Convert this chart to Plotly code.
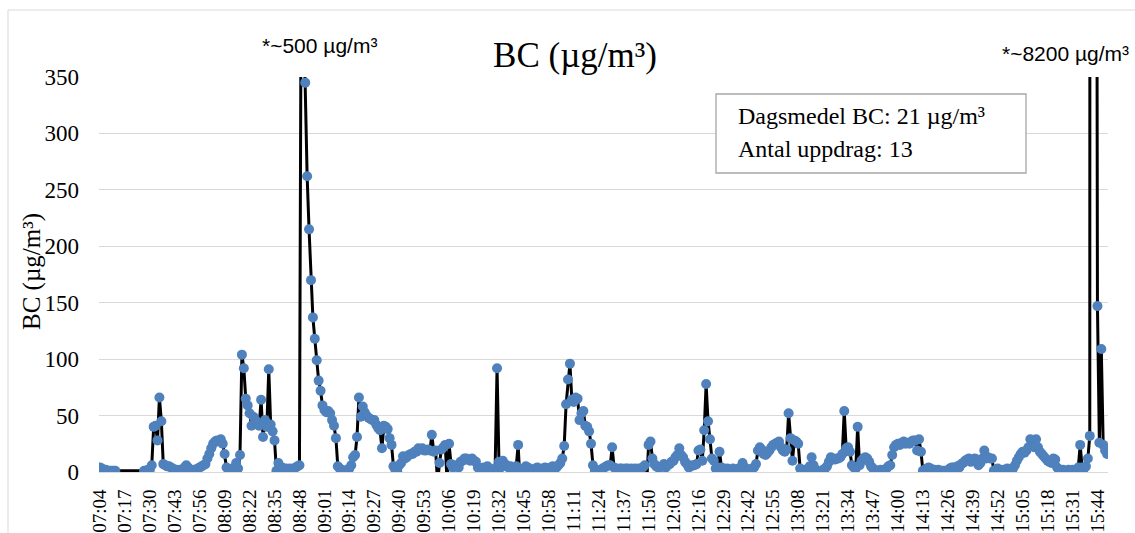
import plotly.graph_objects as go

# Black carbon concentration per minute (µg/m³), starting 07:04; None = no data
bc = (
    [4, 3, 2, 2, 1, 1, 1, 1, 1]
    + [None] * 14
    + [1, 1, 2, 2, 6]
    + [40, 41, 28, 66, 45, 7]
    + [6, 5, 5, 4, 3, 2, 2, 1, 2, 1, 4, 6, 4, 2, 1, 2, 2, 3]
    + [4, 5, 6, 7, 12, 16, 21, 25]
    + [27, 28, 27, 29, 25, 16]
    + [4, 2, 2, 3, 2, 8, 3, 15]
    + [104, 92, 65, 59, 52, 41, 49, 46, 44, 41, 64, 31, 46, 40]
    + [91, 42, 36, 28, 1, 8, 3, 4, 2, 3, 2, 3, 2, 3, 4, 5]
    + [6]
    + [500, 420]
    + [345, 262, 215, 170, 137, 118, 99, 81, 72, 59, 55, 53, 54, 52, 46, 41, 30, 5]
    + [3, 2, 1, 1, 2, 3, 6]
    + [13, 15, 31, 66]
    + [49, 58, 53, 50, 48, 47, 46, 46, 42, 39, 37, 21, 41, 40, 38, 30, 24, 5, 2, 1]
    + [6, 8, 14, 12, 13, 15, 16, 16, 18, 18, 21, 20, 21, 19, 19, 20, 19, 33, 18, 19]
    + [-10, 8, 20, 22, 24, -10, 25, 7]
    + [4, 6, 5, 4, 9, 10, 12, 12, 11, 10, 12, 10, 9, 4, 3, 3, 4, 3, 5, 3, 2, 2, 3]
    + [92]
    + [9, 4, 10, 7, 6, 4, 5, 3, 3, 5]
    + [24, -10]
    + [2, 3, 5, 4, 3, 2, 2, 3, 4, 3, 2, 3, 4, 3, 3, 4, 5, 3, 4, 6, 8]
    + [12, 23, 60, 82, 96, 64, 62, 66, 65, 46, 52, 54, 41, 40, 36, 25, 6, 1]
    + [1, 1, 2, 3, 4, 5, 6, 6]
    + [22, 4, 3]
    + [2, 3, 3, 2, 3, 3, 2, 3, 2, 3, 2, 3, 3, 4, 6, -10]
    + [24, 27, 12, 7, 5, 4, 4, 5, 7, 4, 6, 7, 9, 10]
    + [13, 15, 21, 15, 13, 9, 7, 4, 5, 6, 6, 7]
    + [19, 20, 10, 37, 78, 45, 29, 12, 10]
    + [3, 4, 18, 4, 3, 2, 3, 2, 2, 3, 2, 2, 3, 4, 8, 4, 3, 2, 1, 3, 4, 7]
    + [19, 22, 20, 16, 15, 17, 19, 22, 24, 25, 26, 27, 22, 19, 18, 20, 52, 30, 10, 28, 27, 25]
    + [3, 1, 2, 1, 2, 5, 13, 6, 2, 1, -10, 1, 2, 3, 5]
    + [9, 13, 12, 11, 12, 12, 13, 16, 54, 21, 22, 18, 6, 4, 3]
    + [40, 6, 10, 12, 13, 12, 9, 5, 3, 2, 1, 1, 2, 1, 2, 3, 5, 6]
    + [15, 22, 24, 25, 24, 26, 27, 25, 26, 25, 27, 28, 28, 19, 29, 18, 1]
    + [2, 3, 4, 3, 2, 2, 1, 2, 1, 1, 1, 1, -10, 3, 4, 4, 3, 5, 4]
    + [7, 8, 10, 11, 12, 9, 10, 12, 11, 6, 8, 12, 19, 12, 13, 12, 12]
    + [1, 2, 3, 2, 1, 2, 2, 3, 2, 2, 3]
    + [6, 10, 13, 16, 18, 17, 19, 22, 29, 24, 22, 29, 22, 18, 16, 14, 12, 10, 9, 8, 12, 11]
    + [4, 2, 1, 2, 1, 1, 2, 1, 2, 1, 2, 4, 24, 4, 3, 5, 12, 32]
    + [8200, 5000, 1200, 147, 26, 109, 24, 19, 16]
)

# Minute categories (one per measurement)
start_minutes = 7 * 60 + 4
times = [f"{(start_minutes + k) // 60:02d}:{(start_minutes + k) % 60:02d}" for k in range(len(bc))]

tick_labels = [
    "07:04", "07:17", "07:30", "07:43", "07:56", "08:09", "08:22", "08:35", "08:48",
    "09:01", "09:14", "09:27", "09:40", "09:53", "10:06", "10:19", "10:32", "10:45",
    "10:58", "11:11", "11:24", "11:37", "11:50", "12:03", "12:16", "12:29", "12:42",
    "12:55", "13:08", "13:21", "13:34", "13:47", "14:00", "14:13", "14:26", "14:39",
    "14:52", "15:05", "15:18", "15:31", "15:44",
]
y_ticks = [0, 50, 100, 150, 200, 250, 300, 350]

SERIF = "Liberation Serif, Times New Roman, serif"
SANS = "Liberation Sans, Arial, sans-serif"

fig = go.Figure(
    go.Scatter(
        x=times,
        y=bc,
        mode="lines+markers",
        line=dict(color="black", width=3),
        marker=dict(color="#4F81BD", size=10),
        connectgaps=True,
        showlegend=False,
    )
)

L, R, T, B = 99, 27, 77, 61
W, H = 1135, 533
pw, ph = W - L - R, H - T - B


def px(xp):
    return (xp - L) / pw


def py(yp):
    return (H - B - yp) / ph


fig.update_layout(
    width=W,
    height=H,
    margin=dict(l=L, r=R, t=T, b=B),
    plot_bgcolor="white",
    paper_bgcolor="white",
    title=dict(
        text="BC (µg/m³)",
        font=dict(family=SERIF, size=35, color="black"),
        x=575 / W,
        xref="container",
        xanchor="center",
        y=1 - 55 / H,
        yref="container",
        yanchor="middle",
    ),
    xaxis=dict(
        type="category",
        range=[-0.5, len(bc) - 0.5],
        tickmode="array",
        tickvals=tick_labels,
        ticktext=tick_labels,
        tickangle=-90,
        tickfont=dict(family=SERIF, size=19, color="black"),
        showgrid=False,
        showline=True,
        linecolor="#d9d9d9",
        linewidth=1,
        ticks="",
        ticklabelstandoff=9,
        zeroline=False,
        automargin=False,
    ),
    yaxis=dict(
        range=[0, 350],
        tickmode="array",
        tickvals=y_ticks,
        tickfont=dict(family=SERIF, size=23, color="black"),
        showgrid=True,
        gridcolor="#d9d9d9",
        gridwidth=1.2,
        zeroline=False,
        showline=False,
        ticks="",
        ticklabelstandoff=19,
        automargin=False,
    ),
    shapes=[
        dict(type="rect", xref="paper", yref="paper",
             x0=px(8), x1=px(1140), y0=py(545), y1=py(10),
             line=dict(color="#d9d9d9", width=1), fillcolor="rgba(0,0,0,0)", layer="below"),
        dict(type="rect", xref="paper", yref="paper",
             x0=px(716), x1=px(1026), y0=py(173), y1=py(94),
             line=dict(color="#a6a6a6", width=1.3), fillcolor="white", layer="above"),
    ],
    annotations=[
        dict(text="*~500 µg/m³", xref="paper", yref="paper",
             x=px(319), y=py(45), xanchor="center", yanchor="middle", showarrow=False,
             font=dict(family=SANS, size=21, color="black")),
        dict(text="*~8200 µg/m³", xref="paper", yref="paper",
             x=px(1065), y=py(54), xanchor="center", yanchor="middle", showarrow=False,
             font=dict(family=SANS, size=21, color="black")),
        dict(text="Dagsmedel BC: 21 µg/m³", xref="paper", yref="paper",
             x=px(736), y=py(116), xanchor="left", yanchor="middle", showarrow=False,
             font=dict(family=SERIF, size=24, color="black")),
        dict(text="Antal uppdrag: 13", xref="paper", yref="paper",
             x=px(736), y=py(149), xanchor="left", yanchor="middle", showarrow=False,
             font=dict(family=SERIF, size=24, color="black")),
        dict(text="BC (µg/m³)", xref="paper", yref="paper",
             x=px(32), y=py(272), xanchor="center", yanchor="middle", showarrow=False,
             textangle=-90, font=dict(family=SERIF, size=25, color="black")),
    ],
)

fig.write_html("out.html")
